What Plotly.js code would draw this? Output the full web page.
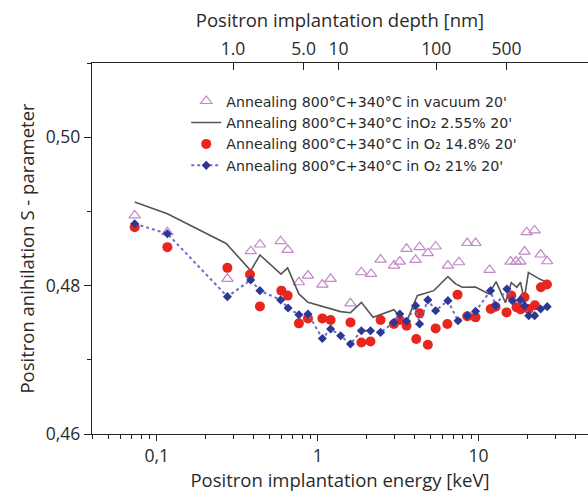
<!DOCTYPE html>
<html>
<head>
<meta charset="utf-8">
<script src="https://cdn.plot.ly/plotly-3.0.1.min.js"></script>
<style>html,body{margin:0;padding:0;background:#fff;}#chart{width:588px;height:495px;}</style>
</head>
<body>
<div id="chart"></div>
<script>
// Vacuum (open triangles)
const vacE = [0.073,0.1165,0.275,0.384,0.438,0.589,0.651,0.765,0.871,1.07,1.204,1.60,1.87,2.15,2.46,2.98,3.24,3.57,4.06,4.30,4.84,5.41,6.45,7.55,8.51,9.58,11.7,15.8,17.1,18.2,19.3,19.9,22.3,24.3,26.7];
const vacS = [0.48946,0.48720,0.48091,0.48464,0.48554,0.48599,0.48482,0.48045,0.48135,0.48014,0.48091,0.47761,0.48180,0.48158,0.48351,0.48270,0.48324,0.48496,0.48347,0.48518,0.48437,0.48527,0.48270,0.48315,0.48574,0.48574,0.48212,0.48324,0.48324,0.48324,0.48459,0.48720,0.48743,0.48419,0.48328];
// O2 2.55% (solid line)
const o2aE = [0.073,0.1165,0.27,0.384,0.438,0.592,0.651,0.765,0.871,1.07,1.204,1.39,1.60,1.87,2.21,2.98,3.52,4.16,5.27,6.45,7.20,7.92,9.58,11.6,12.85,14.7,15.97,17.3,18.23,19.2,20.4,24.3,26.5];
const o2aS = [0.49128,0.48969,0.48568,0.48203,0.48412,0.48155,0.48239,0.47888,0.47774,0.47723,0.47685,0.47649,0.47635,0.47774,0.47572,0.47676,0.47482,0.47865,0.47932,0.48122,0.48023,0.47977,0.47982,0.47888,0.48054,0.47770,0.48041,0.47977,0.48045,0.47811,0.48176,0.48081,0.48047];
// O2 14.8% (red circles)
const o2bE = [0.073,0.1165,0.275,0.380,0.438,0.595,0.651,0.765,0.871,1.07,1.204,1.60,1.87,2.13,2.46,2.98,3.24,3.57,4.10,4.30,4.84,5.41,6.40,7.40,8.51,9.58,11.9,12.75,14.93,15.97,17.22,18.23,19.3,20.5,22.4,24.4,26.6];
const o2bS = [0.48788,0.48518,0.48239,0.48149,0.47720,0.47932,0.47865,0.47491,0.47558,0.47558,0.47536,0.47504,0.47234,0.47247,0.47536,0.47482,0.47536,0.47459,0.47280,0.47626,0.47203,0.47423,0.47482,0.47878,0.47588,0.47572,0.47685,0.47716,0.47639,0.47865,0.47709,0.47680,0.47842,0.47685,0.47736,0.47977,0.48014];
// O2 21% (blue diamonds, dotted)
const o2cE = [0.073,0.1165,0.275,0.384,0.438,0.589,0.655,0.765,0.871,1.07,1.204,1.39,1.60,1.87,2.13,2.46,2.98,3.24,3.57,4.06,4.30,4.84,5.41,6.45,7.45,8.51,9.58,11.87,12.75,15.0,16.2,18.2,19.3,20.5,22.3,24.3,26.7];
const o2cS = [0.48834,0.48699,0.47851,0.48077,0.47932,0.47807,0.47699,0.47608,0.47618,0.47288,0.47415,0.47324,0.47212,0.47392,0.47392,0.47369,0.47504,0.47618,0.47518,0.47730,0.47482,0.47807,0.47662,0.47797,0.47527,0.47595,0.47653,0.47932,0.47730,0.47955,0.47797,0.47807,0.47730,0.47595,0.47595,0.47685,0.47716];
// Top axis: implantation depth labels and their energies (keV)
const depthLabels = ["1.0","5.0","10","100","500"];
const depthTickEnergy = [0.298,0.818,1.35,5.46,14.9];

const names = [
  "Annealing 800°C+340°C in vacuum 20'",
  "Annealing 800°C+340°C inO₂ 2.55% 20'",
  "Annealing 800°C+340°C in O₂ 14.8% 20'",
  "Annealing 800°C+340°C in O₂ 21% 20'"
];

const FONT = "Open Sans, Noto Sans, DejaVu Sans, sans-serif";
const TXT = "#2a2a2a";
const xr = [-1.402, 1.68];

const traces = [
  {x: vacE, y: vacS, name: names[0], type: 'scatter', mode: 'markers',
   marker: {symbol: 'triangle-up-open', size: 10, color: '#c487c8', line: {width: 1.2}}},
  {x: o2aE, y: o2aS, name: names[1], type: 'scatter', mode: 'lines',
   line: {color: '#555555', width: 1.6}},
  {x: o2bE, y: o2bS, name: names[2], type: 'scatter', mode: 'markers',
   marker: {symbol: 'circle', size: 10, color: '#e8261e'}},
  {x: o2cE, y: o2cS, name: names[3], type: 'scatter', mode: 'lines+markers',
   line: {color: '#6b6fc6', width: 2, dash: 'dot'},
   marker: {symbol: 'diamond', size: 7, color: '#2b3897'}},
  {x: [], y: [], xaxis: 'x2', showlegend: false, hoverinfo: 'skip', type: 'scatter', mode: 'markers'}
];

const layout = {
  width: 588, height: 495,
  margin: {l: 92, r: 0, t: 63, b: 61},
  paper_bgcolor: '#ffffff', plot_bgcolor: '#ffffff',
  separators: ',.',
  font: {family: FONT, color: TXT, size: 17},
  showlegend: true,
  legend: {x: 0.19, y: 0.94, xanchor: 'left', yanchor: 'top', bgcolor: 'rgba(0,0,0,0)',
           font: {family: "DejaVu Sans, sans-serif", size: 14.2, color: TXT}, tracegroupgap: 0},
  xaxis: {type: 'log', range: xr, showgrid: false, zeroline: false,
          showline: true, linecolor: '#222', linewidth: 1.3, mirror: false,
          ticks: 'outside', ticklen: 6, tickcolor: '#222', dtick: 1,
          minor: {ticks: 'outside', ticklen: 4, dtick: 'D1', tickcolor: '#222', showgrid: false},
          tickfont: {size: 17.5},
          title: {text: 'Positron implantation energy [keV]', font: {size: 18.5}, standoff: 6}},
  xaxis2: {type: 'log', range: xr, overlaying: 'x', side: 'top', anchor: 'y',
           showgrid: false, zeroline: false, showline: true, linecolor: '#222', linewidth: 1.3,
           ticks: 'inside', ticklen: 7, tickcolor: '#222',
           tickmode: 'array', tickvals: depthTickEnergy, ticktext: depthLabels,
           tickfont: {size: 17.5},
           title: {text: 'Positron implantation depth [nm]', font: {size: 18.5}, standoff: 3}},
  yaxis: {range: [0.46, 0.51], showgrid: false, zeroline: false,
          showline: true, linecolor: '#222', linewidth: 1.3,
          ticks: 'outside', ticklen: 7, tickcolor: '#222',
          tick0: 0.46, dtick: 0.02, tickformat: '.2f',
          minor: {ticks: 'outside', ticklen: 4, dtick: 0.01, tickcolor: '#222', showgrid: false},
          tickfont: {size: 17.5},
          title: {text: 'Positron anihilation S - parameter', font: {size: 18.5}, standoff: 6}}
};

Plotly.newPlot('chart', traces, layout, {displayModeBar: false, staticPlot: true});
</script>
</body>
</html>
